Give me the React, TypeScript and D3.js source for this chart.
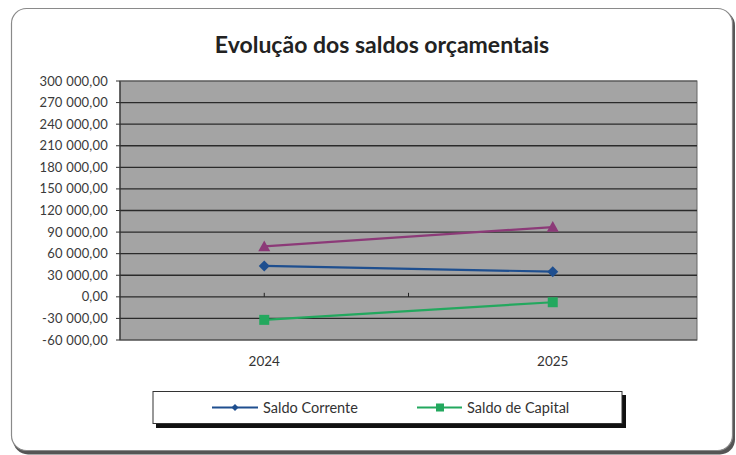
import React from "react";
import * as d3 from "d3";

const categories = ["2024", "2025"];
const saldoCorrente = [43000, 35000];
const saldoCapital = [-32000, -7500];
const saldoGlobal = [70000, 97000];
const yTicks = [-60000, -30000, 0, 30000, 60000, 90000, 120000, 150000, 180000, 210000, 240000, 270000, 300000];
const title = "Evolução dos saldos orçamentais";
const legendLabels = ["Saldo Corrente", "Saldo de Capital"];

const W = 736;
const H = 455;
const plot = { left: 120, right: 697, top: 81, bottom: 340 };
const FONT = "Lato, 'Open Sans', sans-serif";

function fmt(v: number): string {
  const s = Math.abs(v).toFixed(0);
  const grouped = s.replace(/\B(?=(\d{3})+(?!\d))/g, " ");
  return (v < 0 ? "-" : "") + grouped + ",00";
}

export default function App() {
  const x = d3.scaleBand<string>().domain(categories).range([plot.left, plot.right]);
  const cx = (c: string) => (x(c) as number) + x.bandwidth() / 2;
  const y = d3.scaleLinear().domain([-60000, 300000]).range([plot.bottom, plot.top]);
  const line = d3
    .line<number>()
    .x((_, i) => cx(categories[i]))
    .y((d) => y(d));

  const blue = "#1f4f8f";
  const green = "#23a85e";
  const purple = "#8c3a78";

  const diamond = (px: number, py: number, r: number) =>
    `M${px},${py - r}L${px + r},${py}L${px},${py + r}L${px - r},${py}Z`;
  const tri = (px: number, py: number, r: number) =>
    `M${px},${py - r}L${px + r},${py + r * 0.8}L${px - r},${py + r * 0.8}Z`;

  return (
    <svg
      width={W}
      height={H}
      style={{ position: "absolute", left: 0, top: 0, background: "#fff" }}
      fontFamily={FONT}
    >
      {/* outer frame */}
      <rect x={13} y={10.5} width={722} height={444} rx={15} fill="#555" />
      <rect x={11.5} y={8.5} width={721} height={442} rx={15} fill="#fff" stroke="#8a8a8a" strokeWidth={1.2} />

      <text x={382} y={53} textAnchor="middle" fontSize={23} fontWeight="bold" fill="#222">
        {title}
      </text>

      {/* plot area */}
      <rect
        x={plot.left}
        y={plot.top}
        width={plot.right - plot.left}
        height={plot.bottom - plot.top}
        fill="#a4a4a4"
        stroke="#666"
        strokeWidth={1}
      />
      {yTicks.map((t) => (
        <g key={t}>
          {t !== -60000 && t !== 300000 && (
            <line x1={plot.left} x2={plot.right} y1={y(t)} y2={y(t)} stroke="#2a2a2a" strokeWidth={1.4} />
          )}
          <line x1={plot.left - 4} x2={plot.left} y1={y(t)} y2={y(t)} stroke="#333" strokeWidth={1} />
          <text x={108} y={y(t)} dy="0.35em" textAnchor="end" fontSize={13} letterSpacing={0.2} fill="#3a3a3a">
            {fmt(t)}
          </text>
        </g>
      ))}
      <line x1={plot.left} x2={plot.left} y1={plot.top} y2={plot.bottom} stroke="#333" strokeWidth={1.2} />
      <line x1={plot.left} x2={plot.right} y1={plot.bottom} y2={plot.bottom} stroke="#444" strokeWidth={1.2} />
      <line x1={plot.left} x2={plot.right} y1={plot.top} y2={plot.top} stroke="#555" strokeWidth={1.2} />
      {/* category ticks at zero axis */}
      {[cx(categories[0]), plot.left + x.bandwidth()].map((tx) => (
        <line key={tx} x1={tx} x2={tx} y1={y(0) - 4} y2={y(0)} stroke="#222" strokeWidth={1} />
      ))}

      {/* series */}
      <path d={line(saldoGlobal) || ""} fill="none" stroke={purple} strokeWidth={2.2} />
      <path d={line(saldoCorrente) || ""} fill="none" stroke={blue} strokeWidth={2.2} />
      <path d={line(saldoCapital) || ""} fill="none" stroke={green} strokeWidth={2.2} />
      {saldoGlobal.map((v, i) => (
        <path key={"g" + i} d={tri(cx(categories[i]), y(v), 6)} fill={purple} />
      ))}
      {saldoCorrente.map((v, i) => (
        <path key={"c" + i} d={diamond(cx(categories[i]), y(v), 5.5)} fill={blue} />
      ))}
      {saldoCapital.map((v, i) => (
        <rect key={"k" + i} x={cx(categories[i]) - 5} y={y(v) - 5} width={10} height={10} fill={green} />
      ))}

      {categories.map((c) => (
        <text key={c} x={cx(c)} y={366} textAnchor="middle" fontSize={13.5} fill="#333">
          {c}
        </text>
      ))}

      {/* legend */}
      <rect x={156} y={395} width={470} height={33} fill="#111" />
      <rect x={153} y={391.5} width={469} height={32} fill="#fff" stroke="#333" strokeWidth={1} />
      <line x1={212} x2={258} y1={407.5} y2={407.5} stroke={blue} strokeWidth={2} />
      <path d={diamond(235, 407.5, 3.5)} fill={blue} />
      <text x={263} y={407.5} dy="0.35em" fontSize={14.5} fill="#333">
        {legendLabels[0]}
      </text>
      <line x1={417} x2={462} y1={407.5} y2={407.5} stroke={green} strokeWidth={2} />
      <rect x={436} y={403.5} width={8} height={8} fill={green} />
      <text x={467} y={407.5} dy="0.35em" fontSize={14.5} fill="#333">
        {legendLabels[1]}
      </text>
    </svg>
  );
}
